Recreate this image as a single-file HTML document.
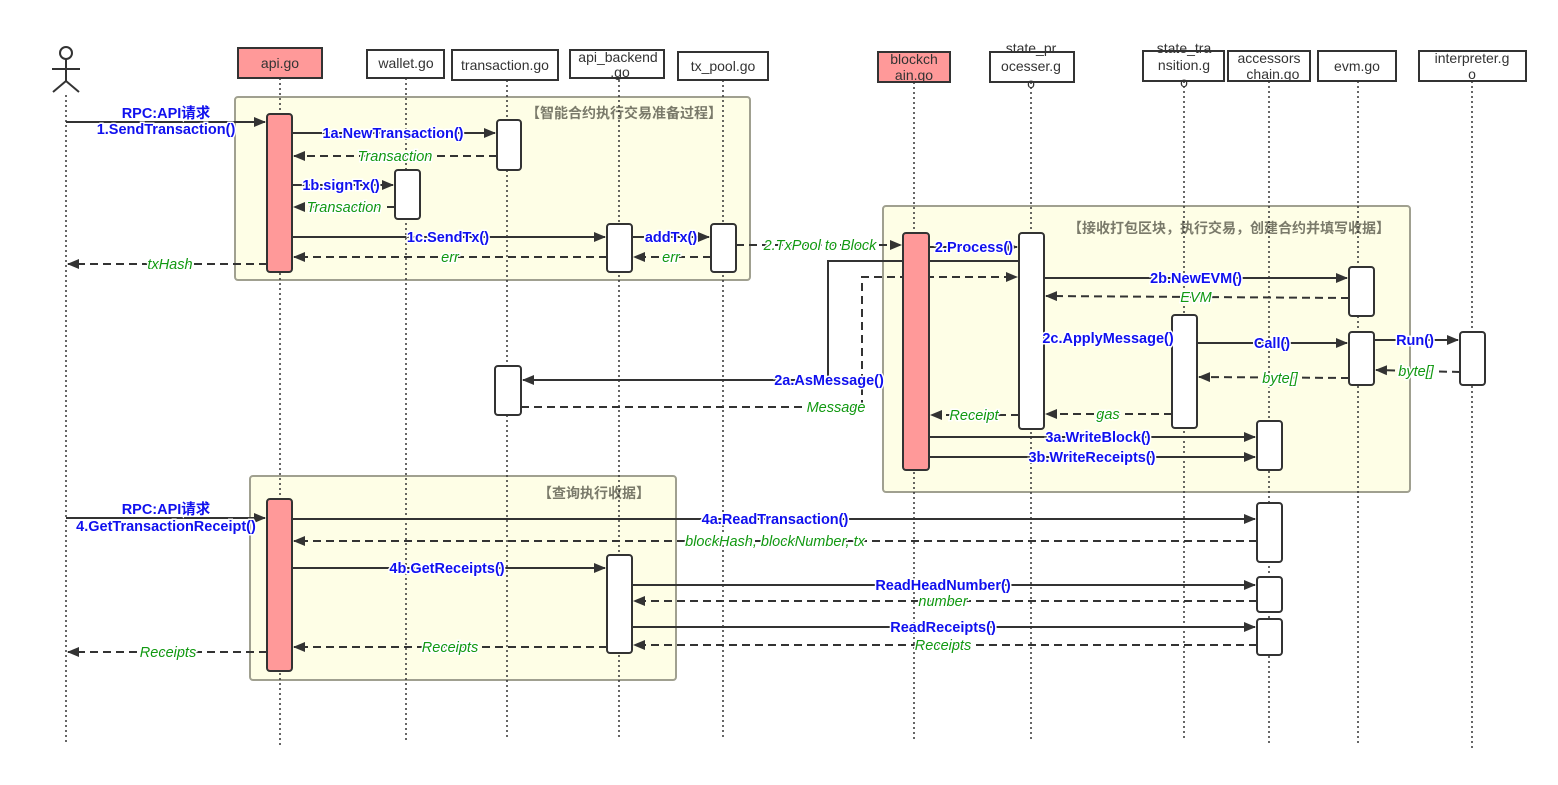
<!DOCTYPE html>
<html><head><meta charset="utf-8"><style>
html,body{margin:0;padding:0;background:#fff}
svg text{font-family:"Liberation Sans","Noto Sans CJK SC",sans-serif}
.h{font-size:14px;fill:#333;text-anchor:middle}
.m{font-size:14.5px;font-weight:bold;fill:#1010ee;text-anchor:middle;paint-order:stroke;stroke:#fff;stroke-width:3px}
.r{font-size:14.5px;font-style:italic;fill:#129912;text-anchor:middle;paint-order:stroke;stroke:#fff;stroke-width:3px}
.g{font-size:14px;font-weight:bold;fill:#7a7a6a;text-anchor:end}
.ll{stroke:#333;stroke-width:1.5;stroke-dasharray:2 3}
.s{stroke:#333;stroke-width:2;fill:none;marker-end:url(#a)}
.d{stroke:#333;stroke-width:2;fill:none;stroke-dasharray:8 5;marker-end:url(#a)}
.act{fill:#fff;stroke:#333;stroke-width:2}
.pk{fill:#ff9999;stroke:#333;stroke-width:2}
.fr{fill:#fefee6;stroke:#a0a090;stroke-width:2}
.hb{fill:#fff;stroke:#333;stroke-width:2}
</style></head><body>
<svg width="1558" height="780" viewBox="0 0 1558 780">
<defs><marker id="a" markerWidth="12" markerHeight="10" refX="11" refY="5" orient="auto" markerUnits="userSpaceOnUse"><path d="M0,0 L12,5 L0,10 z" fill="#333"/></marker></defs>

<rect class="fr" x="235" y="97" width="515" height="183" rx="3"/>
<rect class="fr" x="883" y="206" width="527" height="286" rx="3"/>
<rect class="fr" x="250" y="476" width="426" height="204" rx="3"/>
<text class="g" x="722" y="118">【智能合约执行交易准备过程】</text>
<text class="g" x="1390" y="233">【接收打包区块，执行交易，创建合约并填写收据】</text>
<text class="g" x="650" y="498">【查询执行收据】</text>

<g class="ll">
<line x1="66" y1="95" x2="66" y2="745"/>
<line x1="280" y1="78" x2="280" y2="745"/>
<line x1="406" y1="78" x2="406" y2="740"/>
<line x1="507" y1="80" x2="507" y2="738"/>
<line x1="619" y1="80" x2="619" y2="740"/>
<line x1="723" y1="80" x2="723" y2="740"/>
<line x1="914" y1="82" x2="914" y2="740"/>
<line x1="1031" y1="82" x2="1031" y2="740"/>
<line x1="1184" y1="81" x2="1184" y2="740"/>
<line x1="1269" y1="81" x2="1269" y2="745"/>
<line x1="1358" y1="81" x2="1358" y2="745"/>
<line x1="1472" y1="81" x2="1472" y2="748"/>
</g>

<g stroke="#333" stroke-width="2" fill="none">
<circle cx="66" cy="53" r="6"/><line x1="66" y1="59" x2="66" y2="81"/>
<line x1="52" y1="69" x2="80" y2="69"/><line x1="66" y1="81" x2="53" y2="92"/><line x1="66" y1="81" x2="79" y2="92"/>
</g>

<rect class="pk" x="238" y="48" width="84" height="30"/><text class="h" x="280" y="68">api.go</text>
<rect class="hb" x="367" y="50" width="77" height="28"/><text class="h" x="406" y="68">wallet.go</text>
<rect class="hb" x="452" y="50" width="106" height="30"/><text class="h" x="505" y="70">transaction.go</text>
<rect class="hb" x="570" y="50" width="94" height="28"/><text class="h" x="618" y="62">api_backend</text><text class="h" x="620" y="77">.go</text>
<rect class="hb" x="678" y="52" width="90" height="28"/><text class="h" x="723" y="71">tx_pool.go</text>
<rect class="pk" x="878" y="52" width="72" height="30"/><text class="h" x="914" y="64">blockch</text><text class="h" x="914" y="80">ain.go</text>
<rect class="hb" x="990" y="52" width="84" height="30"/><text class="h" x="1031" y="53">state_pr</text><text class="h" x="1031" y="71">ocesser.g</text><text class="h" x="1031" y="88">o</text>
<rect class="hb" x="1143" y="51" width="81" height="30"/><text class="h" x="1184" y="53">state_tra</text><text class="h" x="1184" y="70">nsition.g</text><text class="h" x="1184" y="87">o</text>
<rect class="hb" x="1228" y="51" width="82" height="30"/><text class="h" x="1269" y="63">accessors</text><text class="h" x="1269" y="79">_chain.go</text>
<rect class="hb" x="1318" y="51" width="78" height="30"/><text class="h" x="1357" y="71">evm.go</text>
<rect class="hb" x="1419" y="51" width="107" height="30"/><text class="h" x="1472" y="63">interpreter.g</text><text class="h" x="1472" y="79">o</text>

<path d="M1019,261 H828 V380" stroke="#333" stroke-width="2" fill="none"/>
<path d="M862,408 V277 H1017" class="d"/>

<rect class="pk" x="267" y="114" width="25" height="158" rx="3"/>
<rect class="act" x="497" y="120" width="24" height="50" rx="3"/>
<rect class="act" x="395" y="170" width="25" height="49" rx="3"/>
<rect class="act" x="607" y="224" width="25" height="48" rx="3"/>
<rect class="act" x="711" y="224" width="25" height="48" rx="3"/>
<rect class="pk" x="903" y="233" width="26" height="237" rx="3"/>
<rect class="act" x="1019" y="233" width="25" height="196" rx="3"/>
<rect class="act" x="1349" y="267" width="25" height="49" rx="3"/>
<rect class="act" x="1349" y="332" width="25" height="53" rx="3"/>
<rect class="act" x="1460" y="332" width="25" height="53" rx="3"/>
<rect class="act" x="1172" y="315" width="25" height="113" rx="3"/>
<rect class="act" x="495" y="366" width="26" height="49" rx="3"/>
<rect class="act" x="1257" y="421" width="25" height="49" rx="3"/>
<rect class="act" x="1257" y="503" width="25" height="59" rx="3"/>
<rect class="act" x="1257" y="577" width="25" height="35" rx="3"/>
<rect class="act" x="1257" y="619" width="25" height="36" rx="3"/>
<rect class="pk" x="267" y="499" width="25" height="172" rx="3"/>
<rect class="act" x="607" y="555" width="25" height="98" rx="3"/>

<line class="s" x1="66" y1="122" x2="265" y2="122"/>
<text class="m" x="166" y="118">RPC:API请求</text><text class="m" x="166" y="134">1.SendTransaction()</text>
<line class="s" x1="292" y1="133" x2="495" y2="133"/><text class="m" x="393" y="138">1a.NewTransaction()</text>
<line class="d" x1="497" y1="156" x2="294" y2="156"/><text class="r" x="395" y="161">Transaction</text>
<line class="s" x1="292" y1="185" x2="393" y2="185"/><text class="m" x="341" y="190">1b.signTx()</text>
<line class="d" x1="395" y1="207" x2="294" y2="207"/><text class="r" x="344" y="212">Transaction</text>
<line class="s" x1="292" y1="237" x2="605" y2="237"/><text class="m" x="448" y="242">1c.SendTx()</text>
<line class="d" x1="607" y1="257" x2="294" y2="257"/><text class="r" x="450" y="262">err</text>
<line class="s" x1="632" y1="237" x2="709" y2="237"/><text class="m" x="671" y="242">addTx()</text>
<line class="d" x1="711" y1="257" x2="634" y2="257"/><text class="r" x="671" y="262">err</text>
<line class="d" x1="267" y1="264" x2="68" y2="264"/><text class="r" x="170" y="269">txHash</text>
<line class="d" x1="736" y1="245" x2="901" y2="245"/><text class="r" x="820" y="250">2.TxPool to Block</text>
<line class="s" x1="929" y1="247" x2="1017" y2="247"/><text class="m" x="974" y="252">2.Process()</text>
<line class="s" x1="828" y1="380" x2="523" y2="380"/><text class="m" x="829" y="385">2a.AsMessage()</text>
<line class="d" x1="521" y1="407" x2="862" y2="407" style="marker-end:none"/><text class="r" x="836" y="412">Message</text>
<line class="s" x1="1044" y1="278" x2="1347" y2="278"/><text class="m" x="1196" y="283">2b.NewEVM()</text>
<line class="d" x1="1349" y1="298" x2="1046" y2="296"/><text class="r" x="1196" y="302">EVM</text>
<text class="m" x="1108" y="343">2c.ApplyMessage()</text>
<line class="s" x1="1197" y1="343" x2="1347" y2="343"/><text class="m" x="1272" y="348">Call()</text>
<line class="s" x1="1374" y1="340" x2="1458" y2="340"/><text class="m" x="1415" y="345">Run()</text>
<line class="d" x1="1460" y1="372" x2="1376" y2="370"/><text class="r" x="1416" y="376">byte[]</text>
<line class="d" x1="1349" y1="378" x2="1199" y2="377"/><text class="r" x="1280" y="383">byte[]</text>
<line class="d" x1="1172" y1="414" x2="1046" y2="414"/><text class="r" x="1108" y="419">gas</text>
<line class="d" x1="1019" y1="415" x2="931" y2="415"/><text class="r" x="974" y="420">Receipt</text>
<line class="s" x1="929" y1="437" x2="1255" y2="437"/><text class="m" x="1098" y="442">3a.WriteBlock()</text>
<line class="s" x1="929" y1="457" x2="1255" y2="457"/><text class="m" x="1092" y="462">3b.WriteReceipts()</text>
<line class="s" x1="66" y1="518" x2="265" y2="518"/>
<text class="m" x="166" y="514">RPC:API请求</text><text class="m" x="166" y="531">4.GetTransactionReceipt()</text>
<line class="s" x1="292" y1="519" x2="1255" y2="519"/><text class="m" x="775" y="524">4a.ReadTransaction()</text>
<line class="d" x1="1257" y1="541" x2="294" y2="541"/><text class="r" x="775" y="546">blockHash, blockNumber, tx</text>
<line class="s" x1="292" y1="568" x2="605" y2="568"/><text class="m" x="447" y="573">4b.GetReceipts()</text>
<line class="s" x1="632" y1="585" x2="1255" y2="585"/><text class="m" x="943" y="590">ReadHeadNumber()</text>
<line class="d" x1="1257" y1="601" x2="634" y2="601"/><text class="r" x="943" y="606">number</text>
<line class="s" x1="632" y1="627" x2="1255" y2="627"/><text class="m" x="943" y="632">ReadReceipts()</text>
<line class="d" x1="1257" y1="645" x2="634" y2="645"/><text class="r" x="943" y="650">Receipts</text>
<line class="d" x1="607" y1="647" x2="294" y2="647"/><text class="r" x="450" y="652">Receipts</text>
<line class="d" x1="267" y1="652" x2="68" y2="652"/><text class="r" x="168" y="657">Receipts</text>
</svg>
</body></html>
